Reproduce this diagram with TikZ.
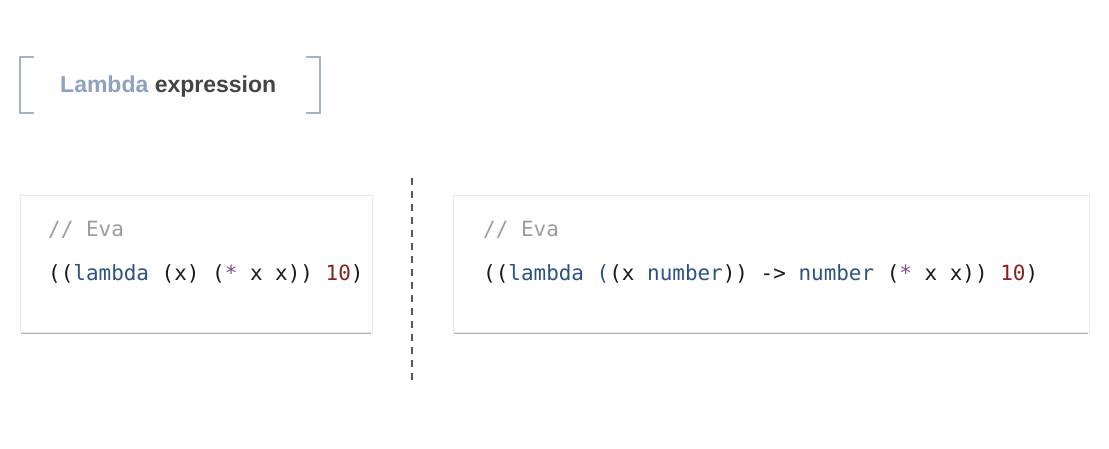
\documentclass[tikz,border=0pt]{standalone}
\usepackage{fontspec}
\setmainfont{Liberation Sans}
\newfontfamily\codefont{DejaVu Sans Mono}
\definecolor{brk}{HTML}{A6B2C8}
\definecolor{lam}{HTML}{8FA1C0}
\definecolor{expr}{HTML}{444444}
\definecolor{cmt}{HTML}{9C9C9C}
\definecolor{kw}{HTML}{2B5283}
\definecolor{op}{HTML}{7B4A93}
\definecolor{num}{HTML}{8A1F1F}
\definecolor{boxline}{HTML}{E8E8E8}
\definecolor{shadowc}{HTML}{B0B0B0}
\tikzset{
  codebox/.style={fill=white, draw=boxline, line width=0.8pt},
  codetext/.style={anchor=base west, inner sep=0pt, text=black!90, font=\codefont\fontsize{20.95}{24}\selectfont},
  brkline/.style={draw=brk, line width=2pt},
  divider/.style={draw=gray!70!black, line width=1.6pt, dash pattern=on 7pt off 6pt},
}
\begin{document}
\begin{tikzpicture}[x=1pt,y=-1pt]
\useasboundingbox (0,0) rectangle (1109,449);
\fill[white] (0,0) rectangle (1109,449);
% bracket title
\coordinate (b1) at (34,57); \coordinate (b2) at (20,57); \coordinate (b3) at (20,113); \coordinate (b4) at (34,113);
\draw[brkline] (b1) -- (b2) -- (b3) -- (b4);
\coordinate (c1) at (306,57); \coordinate (c2) at (320,57); \coordinate (c3) at (320,113); \coordinate (c4) at (306,113);
\draw[brkline] (c1) -- (c2) -- (c3) -- (c4);
\node[anchor=base west, inner sep=0pt, font=\bfseries\fontsize{23}{26}\selectfont] (title) at (60,93) {\textcolor{lam}{Lambda} \textcolor{expr}{expression}};
% left box
\draw[shadowc, line width=2pt] (21,333) -- (371,333);
\draw[codebox] (20,195) rectangle (372,332);
\node[codetext, text=cmt] (lc) at (48,237) {// Eva};
\node[codetext] (lcode) at (48,281) {((\textcolor{kw}{lambda} (x) (\textcolor{op}{*} x x)) \textcolor{num}{10})};
% divider
\coordinate (d1) at (412,178); \coordinate (d2) at (412,383);
\draw[divider] (d1) -- (d2);
% right box
\draw[shadowc, line width=2pt] (454,333) -- (1088,333);
\draw[codebox] (453,195) rectangle (1089,332);
\node[codetext, text=cmt] (rc) at (483,237) {// Eva};
\node[codetext] (rcode) at (483,281) {((\textcolor{kw}{lambda} \textcolor{kw}{(}(x \textcolor{kw}{number})) -> \textcolor{kw}{number} (\textcolor{op}{*} x x)) \textcolor{num}{10})};
\end{tikzpicture}
\end{document}
